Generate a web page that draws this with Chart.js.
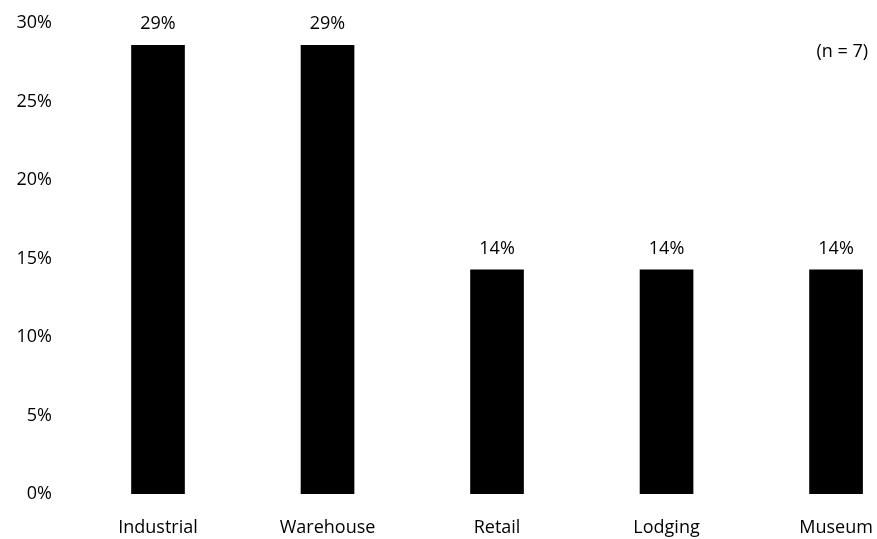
<!DOCTYPE html>
<html>
<head>
<meta charset="utf-8">
<script src="https://cdn.jsdelivr.net/npm/chart.js@4"></script>
<style>
  html, body { margin: 0; padding: 0; background: #fff; }
  #wrap { width: 877px; height: 539px; }
</style>
</head>
<body>
<div id="wrap"><canvas id="c"></canvas></div>
<script>
// 類別與數值 (n = 7)
const categories = ['Industrial', 'Warehouse', 'Retail', 'Lodging', 'Museum'];
const shares = [2 / 7 * 100, 2 / 7 * 100, 1 / 7 * 100, 1 / 7 * 100, 1 / 7 * 100];
const valueLabels = ['29%', '29%', '14%', '14%', '14%'];
const yTicks = [0, 5, 10, 15, 20, 25, 30];
const noteText = '(n = 7)';

const FONT = '"Open Sans", Lato, sans-serif';

// 柱子上方的百分比標籤 + 右上角註記
const labelPlugin = {
    id: 'barLabels',
    afterDatasetsDraw(chart) {
        const c = chart.ctx;
        const meta = chart.getDatasetMeta(0);
        c.save();
        c.fillStyle = '#000';
        c.font = '18px ' + FONT;
        c.textAlign = 'center';
        c.textBaseline = 'alphabetic';
        meta.data.forEach((bar, i) => {
            c.fillText(valueLabels[i], bar.x, bar.y - 16);
        });
        c.textAlign = 'right';
        c.fillText(noteText, chart.chartArea.right - 5, chart.chartArea.top + 34);
        c.restore();
    }
};

const config = {
    type: 'bar',
    data: {
        datasets: [{
            data: categories.map((_, i) => ({ x: i, y: shares[i] })),
            backgroundColor: '#000',
            borderWidth: 0,
            barThickness: 53,
        }]
    },
    options: {
        responsive: true,
        maintainAspectRatio: false,
        animation: false,
        layout: { padding: { top: 23, right: 4, bottom: 2, left: 0 } },
        plugins: {
            legend: { display: false },
            tooltip: { enabled: false },
        },
        scales: {
            x: {
                type: 'linear',
                offset: false,
                min: -0.59,
                max: 4.218,
                grid: { display: false, drawTicks: false },
                border: { display: false },
                afterFit(axis) {
                    axis.height = 43;
                    axis.paddingLeft = 0;
                    axis.paddingRight = 0;
                },
                afterBuildTicks(axis) {
                    axis.ticks = categories.map((_, i) => ({ value: i }));
                },
                ticks: {
                    padding: 23,
                    maxRotation: 0,
                    color: '#000',
                    font: { family: FONT, size: 18 },
                    callback: (v) => categories[v],
                },
            },
            y: {
                min: 0,
                max: 30,
                grid: { display: false, drawTicks: false },
                border: { display: false },
                afterFit(axis) {
                    axis.width = 58;
                    axis.paddingTop = 0;
                    axis.paddingBottom = 0;
                },
                afterBuildTicks(axis) {
                    axis.ticks = yTicks.map(v => ({ value: v }));
                },
                ticks: {
                    padding: 6,
                    color: '#000',
                    font: { family: FONT, size: 18 },
                    callback: (v) => v + '%',
                },
            },
        },
    },
    plugins: [labelPlugin],
};

new Chart(document.getElementById('c'), config);
</script>
</body>
</html>
